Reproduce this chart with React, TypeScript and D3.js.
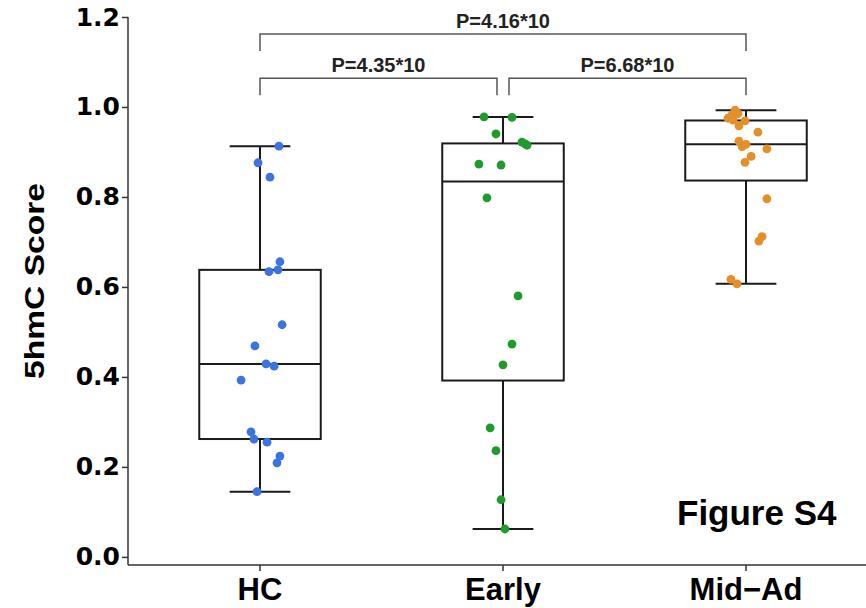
import * as d3 from 'd3';
import { useEffect, useRef } from 'react';

// groups and colours
const groups = ['HC', 'Early', 'Mid−Ad'];
const groupColors = ['#3b73e0', '#1f9a2d', '#e3902a'];

// 5hmC scores, with their horizontal jitter (fraction of the group step)
const hcScores = [0.913, 0.876, 0.844, 0.656, 0.638, 0.634, 0.516, 0.469, 0.429, 0.424, 0.393, 0.278, 0.262, 0.255, 0.224, 0.209, 0.145];
const hcJitter = [0.078, -0.008, 0.041, 0.082, 0.074, 0.037, 0.091, -0.021, 0.025, 0.058, -0.078, -0.037, -0.025, 0.029, 0.082, 0.07, -0.012];

const earlyScores = [0.978, 0.977, 0.94, 0.922, 0.918, 0.915, 0.873, 0.871, 0.798, 0.58, 0.473, 0.427, 0.287, 0.236, 0.127, 0.062];
const earlyJitter = [-0.078, 0.037, -0.029, 0.078, 0.091, 0.099, -0.099, -0.008, -0.066, 0.062, 0.037, 0, -0.053, -0.029, -0.008, 0.008];

const midScores = [0.993, 0.985, 0.982, 0.975, 0.971, 0.969, 0.958, 0.944, 0.924, 0.917, 0.912, 0.907, 0.89, 0.877, 0.796, 0.712, 0.702, 0.617, 0.607];
const midJitter = [-0.045, -0.033, -0.058, -0.074, -0.053, -0.004, -0.029, 0.049, -0.029, 0, -0.016, 0.086, 0.021, -0.004, 0.086, 0.066, 0.053, -0.062, -0.037];

const yTicks = [0, 0.2, 0.4, 0.6, 0.8, 1.0, 1.2];

// significance brackets
const compareFrom = ['HC', 'HC', 'Early'];
const compareTo = ['Mid−Ad', 'Early', 'Mid−Ad'];
const compareLevel = [1.162, 1.064, 1.064];
const compareLabel = ['P=4.16*10', 'P=4.35*10', 'P=6.68*10'];

const App = () => {
    const ref = useRef<SVGSVGElement>(null);

    useEffect(() => {
        document.body.style.margin = '0';
        const svg = d3.select(ref.current);
        svg.selectAll('*').remove();

        const width = 866;
        const left = 128;

        const x = d3.scalePoint().domain(groups).range([260, 746]);
        const step = x(groups[1])! - x(groups[0])!;
        const y = d3.scaleLinear().domain([-0.018, 1.2]).range([565, 17]);

        const series = [
            { name: groups[0], scores: hcScores, jitter: hcJitter, color: groupColors[0] },
            { name: groups[1], scores: earlyScores, jitter: earlyJitter, color: groupColors[1] },
            { name: groups[2], scores: midScores, jitter: midJitter, color: groupColors[2] },
        ];

        const ink = '#1a1a1a';
        const lw = 2;

        // boxes (whiskers run to min / max)
        series.forEach((s) => {
            const sorted = s.scores.slice().sort(d3.ascending);
            const q1 = d3.quantile(sorted, 0.25)!;
            const med = d3.quantile(sorted, 0.5)!;
            const q3 = d3.quantile(sorted, 0.75)!;
            const [lo, hi] = d3.extent(sorted) as [number, number];
            const cx = x(s.name)!;
            const bw = step * 0.25;
            const cw = step * 0.125;
            const g = svg.append('g');

            g.append('line').attr('x1', cx).attr('x2', cx).attr('y1', y(hi)).attr('y2', y(lo))
                .attr('stroke', ink).attr('stroke-width', lw);
            [lo, hi].forEach((v) => {
                g.append('line').attr('x1', cx - cw).attr('x2', cx + cw).attr('y1', y(v)).attr('y2', y(v))
                    .attr('stroke', ink).attr('stroke-width', lw);
            });
            g.append('rect').attr('x', cx - bw).attr('width', bw * 2)
                .attr('y', y(q3)).attr('height', y(q1) - y(q3))
                .attr('fill', 'white').attr('stroke', ink).attr('stroke-width', lw);
            g.append('line').attr('x1', cx - bw).attr('x2', cx + bw).attr('y1', y(med)).attr('y2', y(med))
                .attr('stroke', ink).attr('stroke-width', lw);
        });

        // jittered points
        series.forEach((s) => {
            svg.append('g').selectAll('circle')
                .data(s.scores)
                .enter()
                .append('circle')
                .attr('cx', (d, i) => x(s.name)! + s.jitter[i] * step)
                .attr('cy', (d) => y(d))
                .attr('r', 4.4)
                .attr('fill', s.color);
        });

        // y axis
        const yAxisG = svg.append('g')
            .attr('transform', `translate(${left},0)`)
            .call(d3.axisLeft(y).tickValues(yTicks).tickFormat(d3.format('.1f')).tickSize(6).tickPadding(2));
        yAxisG.select('.domain').remove();
        yAxisG.selectAll('line').attr('stroke', '#333').attr('stroke-width', 1.5);
        yAxisG.selectAll('text')
            .style('font-family', '"DejaVu Sans", sans-serif')
            .style('font-weight', 'bold')
            .style('font-size', '25px')
            .attr('fill', '#000');
        svg.append('line').attr('x1', left).attr('x2', left).attr('y1', y(1.2)).attr('y2', y.range()[0])
            .attr('stroke', '#333').attr('stroke-width', 1.5);

        // x axis
        svg.append('line').attr('x1', left).attr('x2', width).attr('y1', y.range()[0]).attr('y2', y.range()[0])
            .attr('stroke', '#333').attr('stroke-width', 1.5);
        groups.forEach((gname) => {
            svg.append('line').attr('x1', x(gname)!).attr('x2', x(gname)!)
                .attr('y1', y.range()[0]).attr('y2', y.range()[0] + 6)
                .attr('stroke', '#333').attr('stroke-width', 1.5);
            svg.append('text')
                .attr('x', x(gname)!)
                .attr('y', 600)
                .attr('text-anchor', 'middle')
                .style('font-family', '"Liberation Sans", Arial, sans-serif')
                .style('font-weight', 'bold')
                .style('font-size', '31px')
                .attr('fill', '#000')
                .text(gname);
        });

        // y axis title
        svg.append('text')
            .attr('transform', 'rotate(-90)')
            .attr('x', -281)
            .attr('y', 44)
            .attr('text-anchor', 'middle')
            .attr('textLength', 196)
            .attr('lengthAdjust', 'spacingAndGlyphs')
            .style('font-family', '"Liberation Sans", Arial, sans-serif')
            .style('font-weight', 'bold')
            .style('font-size', '28px')
            .attr('fill', '#000')
            .text('5hmC Score');

        // significance brackets
        compareLabel.forEach((label, i) => {
            const gap = 6;
            let x1 = x(compareFrom[i])!;
            let x2 = x(compareTo[i])!;
            if (compareLevel[i] < 1.1) {
                if (compareTo[i] === 'Early') x2 -= gap;
                if (compareFrom[i] === 'Early') x1 += gap;
            }
            const yb = y(compareLevel[i]);
            const legEnd = yb + 17;
            svg.append('path')
                .attr('d', `M${x1},${legEnd}V${yb}H${x2}V${legEnd}`)
                .attr('fill', 'none')
                .attr('stroke', '#555')
                .attr('stroke-width', 1.5);
            svg.append('text')
                .attr('x', (x1 + x2) / 2)
                .attr('y', yb - 6)
                .attr('text-anchor', 'middle')
                .style('font-family', '"Liberation Sans", Arial, sans-serif')
                .style('font-weight', 'bold')
                .style('font-size', '20px')
                .attr('fill', '#222')
                .text(label);
        });

        // figure tag
        svg.append('text')
            .attr('x', 677)
            .attr('y', 525)
            .style('font-family', '"Liberation Sans", Arial, sans-serif')
            .style('font-weight', 'bold')
            .style('font-size', '35px')
            .attr('fill', '#000')
            .text('Figure S4');
    }, []);

    return <svg ref={ref} width={866} height={608} style={{ display: 'block', background: 'white' }}></svg>;
};

export default App;
